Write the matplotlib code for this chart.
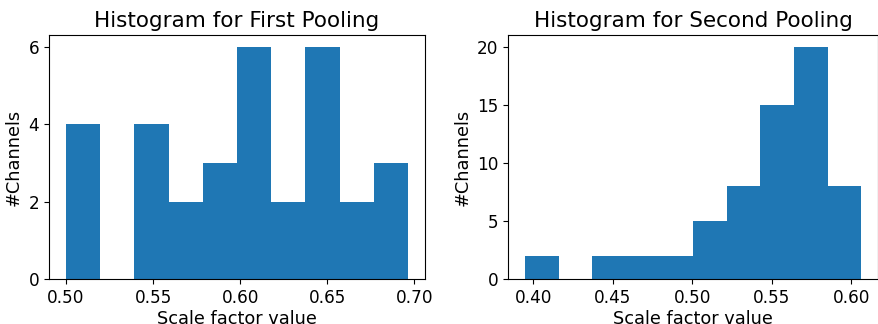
import numpy as np
import matplotlib.pyplot as plt

# bin edges and counts
first_edges = np.linspace(0.500, 0.6963, 11)
first_counts = [4, 0, 4, 2, 3, 6, 2, 6, 2, 3]

second_edges = np.linspace(0.3947, 0.6062, 11)
second_counts = [2, 0, 2, 2, 2, 5, 8, 15, 20, 8]

fig = plt.figure(figsize=(8.79, 3.24), dpi=100)
ax1 = fig.add_axes([0.0557, 0.138, 0.4278, 0.754])
ax2 = fig.add_axes([0.578, 0.138, 0.421, 0.754])

ax1.hist(first_edges[:-1], bins=first_edges, weights=first_counts, color="#1f77b4")
ax1.set_title("Histogram for First Pooling", fontsize=15.5)
ax1.set_xlabel("Scale factor value", fontsize=12.8, labelpad=2)
ax1.set_ylabel("#Channels", fontsize=12.8)
ax1.set_xticks([0.50, 0.55, 0.60, 0.65, 0.70])
ax1.set_yticks([0, 2, 4, 6])

ax2.hist(second_edges[:-1], bins=second_edges, weights=second_counts, color="#1f77b4")
ax2.set_title("Histogram for Second Pooling", fontsize=15.5)
ax2.set_xlabel("Scale factor value", fontsize=12.8, labelpad=2)
ax2.set_ylabel("#Channels", fontsize=12.8)
ax2.set_xticks([0.40, 0.45, 0.50, 0.55, 0.60])
ax2.set_yticks([0, 5, 10, 15, 20])

for ax in (ax1, ax2):
    ax.tick_params(labelsize=12.2)

fig.savefig("out.png", dpi=100)
